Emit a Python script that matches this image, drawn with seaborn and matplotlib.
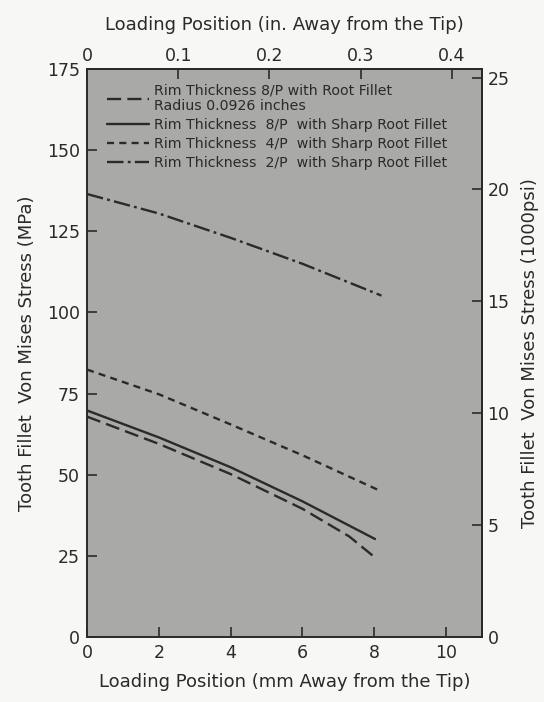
import numpy as np
import pandas as pd
import matplotlib
matplotlib.use("Agg")
import matplotlib.pyplot as plt
import seaborn as sns

# ---- data ----
x_fillet = [0, 2, 4, 6, 7.3, 8.02]
y_fillet = [67.9, 59.5, 50.2, 39.5, 31.0, 24.5]

x_8p = [0, 2, 4, 6, 8.02]
y_8p = [69.8, 61.5, 52.3, 41.8, 30.2]

x_4p = [0, 2, 4, 6, 8.15]
y_4p = [82.4, 74.8, 65.5, 56.0, 45.1]

x_2p = [0, 2, 4, 6, 8.2]
y_2p = [136.5, 130.5, 123.0, 115.0, 105.2]

labels = [
    "Rim Thickness 8/P with Root Fillet\nRadius 0.0926 inches",
    "Rim Thickness  8/P  with Sharp Root Fillet",
    "Rim Thickness  4/P  with Sharp Root Fillet",
    "Rim Thickness  2/P  with Sharp Root Fillet",
]

mm_ticks = [0, 2, 4, 6, 8, 10]
mpa_ticks = [0, 25, 50, 75, 100, 125, 150, 175]
in_ticks = [0, 0.1, 0.2, 0.3, 0.4]
in_ticklabels = ["0", "0.1", "0.2", "0.3", "0.4"]
ksi_ticks = [0, 5, 10, 15, 20, 25]

sns.set_theme(style="ticks")
plt.rcParams["font.family"] = ["DejaVu Sans"]

ink = "#2a2a2a"
fig = plt.figure(figsize=(5.44, 7.02), dpi=100, facecolor="#f7f7f5")
ax = fig.add_axes([0.160, 0.0926, 0.726, 0.809])
ax.set_facecolor("#a9a9a7")

series = [
    (x_fillet, y_fillet, (6, 2.6)),
    (x_8p, y_8p, ""),
    (x_4p, y_4p, (3, 2.2)),
    (x_2p, y_2p, (7, 1.8, 1.2, 1.8)),
]
for (xs, ys, dash), lab in zip(series, labels):
    df = pd.DataFrame({"x": xs, "y": ys})
    sns.lineplot(data=df, x="x", y="y", ax=ax, color=ink, linewidth=1.7,
                 label=lab)
    line = ax.get_lines()[-1]
    if dash:
        line.set_dashes(dash)

ax.set_xlim(0, 11)
ax.set_ylim(0, 175)
ax.set_xticks(mm_ticks)
ax.set_yticks(mpa_ticks)
ax.set_xticklabels([str(t) for t in mm_ticks])
ax.set_yticklabels([str(t) for t in mpa_ticks])
ax.tick_params(direction="in", length=7, width=1.2, colors=ink,
               labelsize=12.5, labelcolor=ink, pad=5)
for s in ax.spines.values():
    s.set_color(ink)
    s.set_linewidth(1.4)

ax.set_xlabel("Loading Position (mm Away from the Tip)", fontsize=13,
              color=ink, labelpad=8)
ax.set_ylabel("Tooth Fillet  Von Mises Stress (MPa)", fontsize=13,
              color=ink, labelpad=8)

top = ax.secondary_xaxis("top", functions=(lambda v: v / 25.4, lambda v: v * 25.4))
top.set_xticks(in_ticks)
top.set_xticklabels(in_ticklabels)
top.tick_params(direction="in", length=7, width=1.2, colors=ink,
                labelsize=12.5, labelcolor=ink, pad=3)
top.set_xlabel("Loading Position (in. Away from the Tip)", fontsize=13,
               color=ink, labelpad=12)

right = ax.secondary_yaxis("right", functions=(lambda v: v / 6.895, lambda v: v * 6.895))
right.set_yticks(ksi_ticks)
right.set_yticklabels([str(t) for t in ksi_ticks])
right.tick_params(direction="in", length=7, width=1.2, colors=ink,
                  labelsize=12.5, labelcolor=ink, pad=4)
right.set_ylabel("Tooth Fillet  Von Mises Stress (1000psi)", fontsize=13,
                 color=ink, labelpad=8)

leg = ax.legend(loc="upper left", bbox_to_anchor=(0.05, 0.975), frameon=False,
                fontsize=10.2, handlelength=3.0, handletextpad=0.3,
                labelspacing=0.35, borderaxespad=0, borderpad=0)
for t in leg.get_texts():
    t.set_color(ink)

fig.savefig("out.png", dpi=100, facecolor=fig.get_facecolor())
